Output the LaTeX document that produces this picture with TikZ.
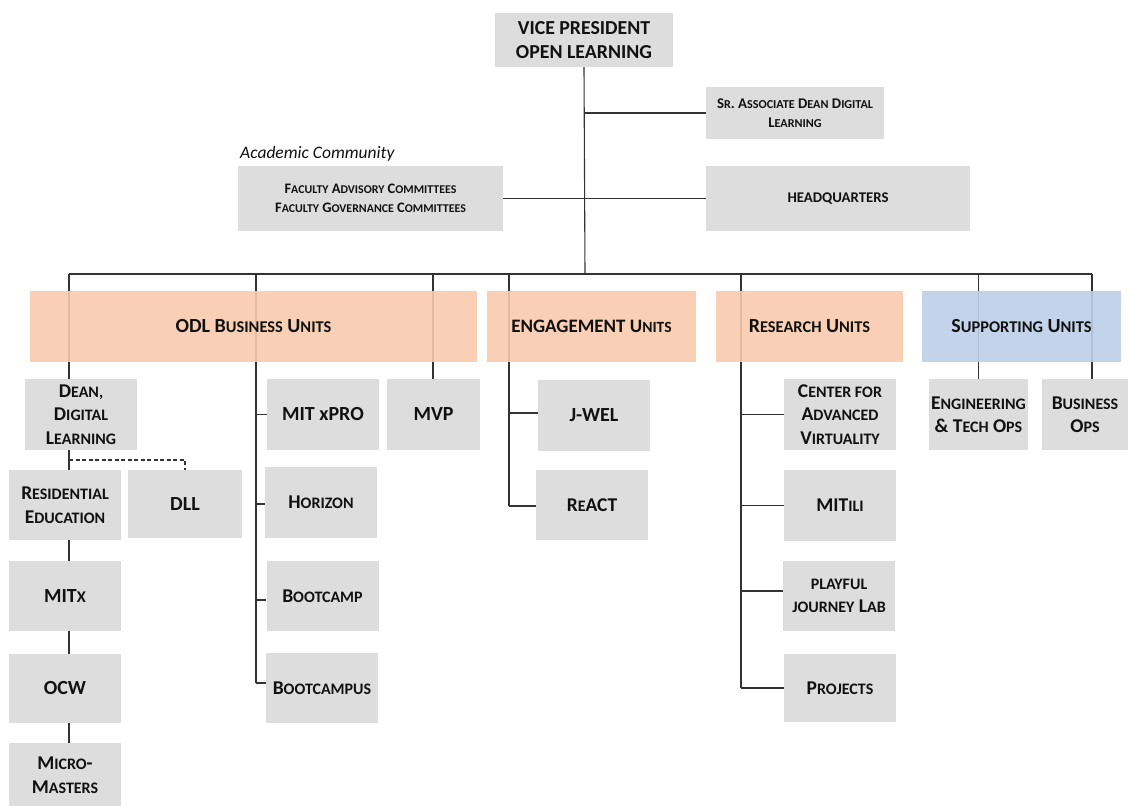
\documentclass[tikz,border=0pt]{standalone}
\usepackage{fontspec}
\setmainfont{Carlito}
\usetikzlibrary{backgrounds}
\definecolor{boxgray}{HTML}{D9D9D9}
\definecolor{unitorange}{HTML}{F8CBAD}
\definecolor{unitblue}{HTML}{BDCFE8}
\definecolor{linecol}{HTML}{333333}
\definecolor{txt}{HTML}{111111}
\makeatletter
\newcommand\sm[1]{{\@tempdima=\f@size pt\@tempdima=0.82\@tempdima\fontsize{\strip@pt\@tempdima}{\f@baselineskip}\selectfont #1}}
\makeatother
\tikzset{
  x=1pt, y=-1pt,
  gbox/.style={fill=boxgray, fill opacity=0.9, text opacity=1, inner sep=0pt, align=center, text=txt},
  obox/.style={gbox, fill=unitorange, minimum height=71pt},
  bbox/.style={gbox, fill=unitblue, minimum height=71pt},
  small/.style={minimum width=112pt, minimum height=71pt},
  fA/.style={font=\fontsize{19.8}{24}\selectfont\bfseries},
  fB/.style={font=\fontsize{14.8}{19}\selectfont\bfseries},
  fC/.style={font=\fontsize{14.5}{19}\selectfont\bfseries},
  fU/.style={font=\fontsize{20}{24}\selectfont\bfseries},
  fL/.style={font=\fontsize{19.5}{23.5}\selectfont\bfseries},
  conn/.style={draw=linecol, line width=1.1pt},
  dconn/.style={conn, dashed, dash pattern=on 4pt off 2.5pt},
}
\begin{document}
\begin{tikzpicture}
\useasboundingbox (0,0) rectangle (1128,806);
% top
\node[gbox, fA, minimum width=178pt, minimum height=54pt] (vp) at (584,40) {VICE PRESIDENT\\OPEN LEARNING};
\node[gbox, fB, minimum width=178pt, minimum height=52pt] (sr) at (795,113) {S\sm{R}. A\sm{SSOCIATE} D\sm{EAN} D\sm{IGITAL}\\L\sm{EARNING}};
\node[anchor=base west, inner sep=0pt, text=txt, font=\fontsize{17.5}{20}\selectfont\itshape] (acad) at (240,158) {Academic Community};
\node[gbox, fC, minimum width=265pt, minimum height=65pt] (fac) at (370.5,198.5) {F\sm{ACULTY} A\sm{DVISORY} C\sm{OMMITTEES}\\F\sm{ACULTY} G\sm{OVERNANCE} C\sm{OMMITTEES}};
\node[gbox, fB, minimum width=264pt, minimum height=65pt] (hq) at (838,198.5) {HEADQUARTERS};
% unit headers
\node[obox, fU, minimum width=447pt] (odl) at (253.5,326.5) {ODL B\sm{USINESS} U\sm{NITS}};
\node[obox, fU, font=\fontsize{19}{24}\selectfont\bfseries, minimum width=209pt] (eng) at (591.5,326.5) {ENGAGEMENT U\sm{NITS}};
\node[obox, fU, minimum width=187pt] (res) at (809.5,326.5) {R\sm{ESEARCH} U\sm{NITS}};
\node[bbox, fU, minimum width=199pt] (sup) at (1021.5,326.5) {S\sm{UPPORTING} U\sm{NITS}};
% ODL column 1
\node[gbox, small, fL] (dean) at (81,414.5) {D\sm{EAN,}\\D\sm{IGITAL}\\L\sm{EARNING}};
\node[gbox, small, fL, minimum height=70pt] (resed) at (65,505) {R\sm{ESIDENTIAL}\\E\sm{DUCATION}};
\node[gbox, fU, minimum width=114pt, minimum height=68pt] (dll) at (185,504) {DLL};
\node[gbox, small, fU, minimum height=70pt] (mitx) at (65,596) {MIT\sm{X}};
\node[gbox, small, fU, minimum height=69pt] (ocw) at (65,688.5) {OCW};
\node[gbox, small, fL, minimum height=64pt] (micro) at (65,775) {M\sm{ICRO}-\\M\sm{ASTERS}};
% ODL column 2
\node[gbox, small, fU] (xpro) at (323,414.5) {MIT xPRO};
\node[gbox, fU, minimum width=93pt, minimum height=71pt] (mvp) at (433.5,414.5) {MVP};
\node[gbox, small, fL] (hor) at (321,502.5) {H\sm{ORIZON}};
\node[gbox, small, fL, minimum height=70pt] (bc) at (322.5,596) {B\sm{OOTCAMP}};
\node[gbox, small, fL, minimum height=70pt] (bcs) at (322,688) {B\sm{OOTCAMPUS}};
% engagement
\node[gbox, small, fU] (jwel) at (594,415.5) {J-WEL};
\node[gbox, small, fL, minimum height=70pt] (react) at (592,505) {R\sm{E}ACT};
% research
\node[gbox, small, fL] (cav) at (840,414.5) {C\sm{ENTER FOR}\\A\sm{DVANCED}\\V\sm{IRTUALITY}};
\node[gbox, small, fL] (ili) at (840,505.5) {MIT\sm{ILI}};
\node[gbox, small, fL, minimum height=70pt] (play) at (839,596) {\sm{PLAYFUL}\\\sm{JOURNEY} L\sm{AB}};
\node[gbox, small, fL, minimum height=68pt] (proj) at (840,688) {P\sm{ROJECTS}};
% supporting
\node[gbox, fL, minimum width=99pt, minimum height=71pt] (etops) at (978.5,414.5) {E\sm{NGINEERING}\\\& T\sm{ECH} O\sm{PS}};
\node[gbox, fL, minimum width=86pt, minimum height=71pt] (bops) at (1085,414.5) {B\sm{USINESS}\\O\sm{PS}};
% coordinates for connectors
\coordinate (busL) at (69,274);
\coordinate (busR) at (1092,274);
\coordinate (dODL) at (256,274);
\coordinate (dMVP) at (433,274);
\coordinate (dENG) at (509,274);
\coordinate (dRES) at (741,274);
\coordinate (dET) at (978.5,274);
\coordinate (dBO) at (1092,274);
\coordinate (trunk) at (585,274);
\coordinate (dllcor) at (185,460);
\begin{scope}[on background layer]
\draw[conn] (vp.south) -- (trunk);
\draw[conn] (vp.south |- sr.west) -- (sr.west);
\draw[conn] (fac.east) -- (hq.west);
\draw[conn] (busL) -- (busR);
\draw[conn] (busL) -- (busL |- dean.north);
\draw[conn] (dODL) -- (dODL |- 0,683);
\draw[conn] (dMVP) -- (dMVP |- mvp.north);
\draw[conn] (dENG) -- (dENG |- 0,506);
\draw[conn] (dRES) -- (dRES |- 0,688);
\draw[conn] (dET) -- (etops.north);
\draw[conn] (dBO) -- (dBO |- bops.north);
% ODL column 2 stubs
\draw[conn] (dODL |- xpro.west) -- (xpro.west);
\draw[conn] (dODL |- 0,504) -- (hor.west |- 0,504);
\draw[conn] (dODL |- 0,600) -- (bc.west |- 0,600);
\draw[conn] (dODL |- 0,683) -- (bcs.west |- 0,683);
% engagement stubs
\draw[conn] (dENG |- 0,413) -- (jwel.west |- 0,413);
\draw[conn] (dENG |- 0,506) -- (react.west |- 0,506);
% research stubs
\draw[conn] (dRES |- cav.west) -- (cav.west);
\draw[conn] (dRES |- ili.west) -- (ili.west);
\draw[conn] (dRES |- 0,591) -- (play.west |- 0,591);
\draw[conn] (dRES |- 0,688) -- (proj.west |- 0,688);
% dean chain
\draw[conn] (busL |- dean.south) -- (busL |- resed.north);
\draw[conn] (busL |- resed.south) -- (busL |- mitx.north);
\draw[conn] (busL |- mitx.south) -- (busL |- ocw.north);
\draw[conn] (busL |- ocw.south) -- (busL |- micro.north);
\draw[dconn] (busL |- dllcor) -- (dllcor) -- (dll.north);
\end{scope}
\end{tikzpicture}
\end{document}
